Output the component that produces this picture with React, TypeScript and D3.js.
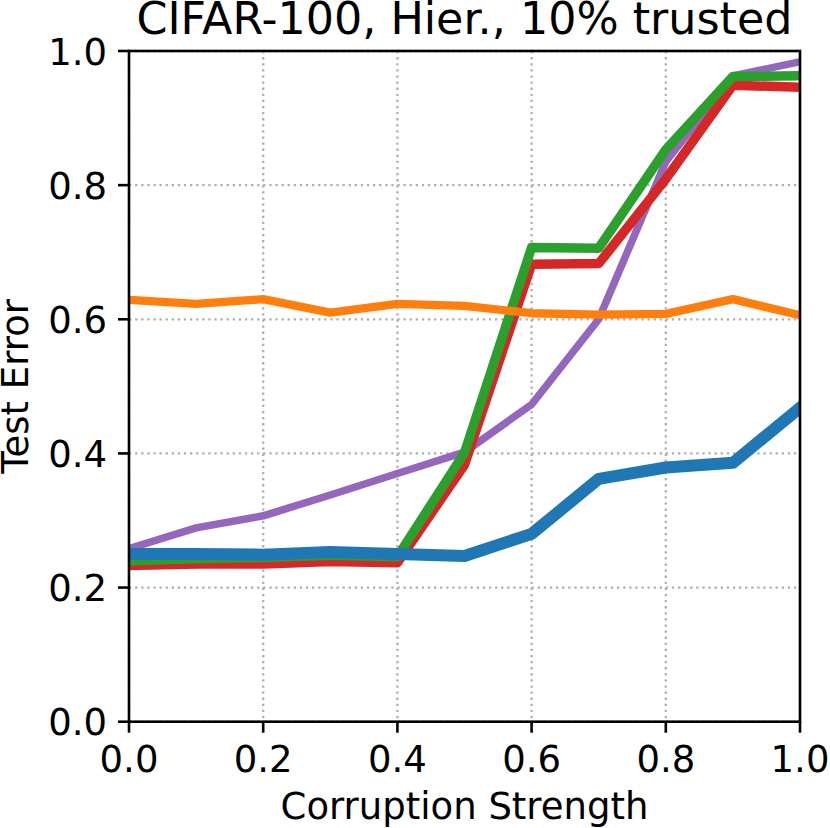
import React from "react";
import * as d3 from "d3";

const xs = [0, 0.1, 0.2, 0.3, 0.4, 0.5, 0.6, 0.7, 0.8, 0.9, 1.0];
const purple = [0.258, 0.289, 0.307, 0.338, 0.370, 0.402, 0.473, 0.600, 0.835, 0.963, 0.984];
const red = [0.233, 0.235, 0.235, 0.239, 0.237, 0.383, 0.682, 0.683, 0.809, 0.949, 0.946];
const green = [0.240, 0.243, 0.245, 0.248, 0.246, 0.401, 0.707, 0.706, 0.853, 0.962, 0.963];
const orange = [0.629, 0.623, 0.630, 0.610, 0.623, 0.620, 0.609, 0.607, 0.608, 0.630, 0.606];
const blue = [0.250, 0.250, 0.249, 0.253, 0.250, 0.247, 0.280, 0.362, 0.379, 0.386, 0.468];

const xTicks = [0, 0.2, 0.4, 0.6, 0.8, 1.0];
const yTicks = [0, 0.2, 0.4, 0.6, 0.8, 1.0];
const title = "CIFAR-100, Hier., 10% trusted";
const xLabel = "Corruption Strength";
const yLabel = "Test Error";

const series = [
  { name: "purple", values: purple, color: "#9467bd", width: 7.5 },
  { name: "red", values: red, color: "#d62728", width: 9.5 },
  { name: "green", values: green, color: "#2ca02c", width: 9.5 },
  { name: "orange", values: orange, color: "#ff7f0e", width: 8.3 },
  { name: "blue", values: blue, color: "#1f77b4", width: 12 },
];

export default function App() {
  const W = 830, H = 828;
  const left = 129, right = 800, top = 51, bottom = 721.7;
  const x = d3.scaleLinear().domain([0, 1]).range([left, right]);
  const y = d3.scaleLinear().domain([0, 1]).range([bottom, top]);
  const font = "DejaVu Sans";
  const line = (vals: number[]) =>
    d3.line<number>().x((_, i) => x(xs[i])).y((d) => y(d))(vals) || "";

  return (
    <svg width={W} height={H} style={{ position: "absolute", left: 0, top: 0, background: "#fff" }} fontFamily={font}>
      <defs>
        <clipPath id="plotclip">
          <rect x={left} y={top} width={right - left} height={bottom - top} />
        </clipPath>
      </defs>
      <rect x={0} y={0} width={W} height={H} fill="#fff" />
      {/* grid */}
      <g stroke="#b0b0b0" strokeWidth={2.3} strokeDasharray="2.3 3.8">
        {xTicks.map((t) => (
          <line key={"gx" + t} x1={x(t)} x2={x(t)} y1={top} y2={bottom} />
        ))}
        {yTicks.map((t) => (
          <line key={"gy" + t} x1={left} x2={right} y1={y(t)} y2={y(t)} />
        ))}
      </g>
      {/* lines */}
      <g clipPath="url(#plotclip)" fill="none" strokeLinejoin="round" strokeLinecap="square">
        {series.map((s) => (
          <path key={s.name} d={line(s.values)} stroke={s.color} strokeWidth={s.width} />
        ))}
      </g>
      {/* spines */}
      <rect x={left} y={top} width={right - left} height={bottom - top} fill="none" stroke="#000" strokeWidth={2.6} />
      {/* x ticks */}
      <g>
        {xTicks.map((t) => (
          <g key={"xt" + t}>
            <line x1={x(t)} x2={x(t)} y1={bottom} y2={bottom + 11} stroke="#000" strokeWidth={2.6} />
            <text x={x(t)} y={772} fontSize={37} textAnchor="middle" fill="#000">
              {t.toFixed(1)}
            </text>
          </g>
        ))}
      </g>
      {/* y ticks */}
      <g>
        {yTicks.map((t) => (
          <g key={"yt" + t}>
            <line x1={left - 11} x2={left} y1={y(t)} y2={y(t)} stroke="#000" strokeWidth={2.6} />
            <text x={107} y={y(t) + 13.5} fontSize={37} textAnchor="end" fill="#000">
              {t.toFixed(1)}
            </text>
          </g>
        ))}
      </g>
      <text x={(left + right) / 2} y={819} fontSize={37} textAnchor="middle" fill="#000">
        {xLabel}
      </text>
      <text transform={`translate(28, ${(top + bottom) / 2}) rotate(-90)`} fontSize={37} textAnchor="middle" fill="#000">
        {yLabel}
      </text>
      <text x={(left + right) / 2} y={34} fontSize={44.4} textAnchor="middle" fill="#000">
        {title}
      </text>
    </svg>
  );
}
